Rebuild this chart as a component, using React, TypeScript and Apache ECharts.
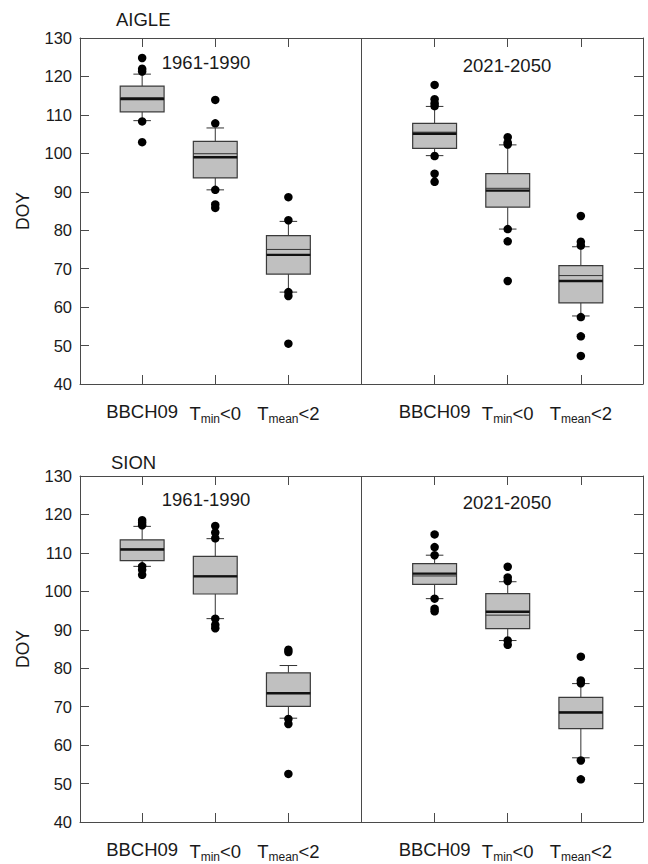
import React, { useEffect, useRef } from "react";
import * as echarts from "echarts";

// Categories and their x positions (1..3 for 1961-1990, 5..7 for 2021-2050)
const categories = ["BBCH09", "Tmin<0", "Tmean<2"];
const xPos1961 = [1, 2, 3];
const xPos2021 = [5, 6, 7];
const periods = ["1961-1990", "2021-2050"];
const yTicks = [40, 50, 60, 70, 80, 90, 100, 110, 120, 130];

// stats rows: [lowerWhisker, Q1, median, mean, Q3, upperWhisker]
const aigle1961Stats = [
  [108.5, 110.8, 114.5, 114.1, 117.5, 120.6],
  [90.5, 93.6, 99.9, 99.0, 103.1, 106.6],
  [63.9, 68.6, 75.0, 73.6, 78.6, 82.3],
];
const aigle1961Outliers = [
  [124.8, 122.0, 121.3, 108.3, 102.9],
  [113.9, 107.8, 90.5, 86.7, 85.8],
  [88.6, 82.6, 63.9, 62.9, 50.5],
];
const aigle2021Stats = [
  [99.4, 101.3, 105.5, 105.1, 107.8, 112.2],
  [80.3, 86.0, 90.9, 90.3, 94.7, 102.2],
  [57.7, 61.1, 68.2, 66.8, 70.8, 75.7],
];
const aigle2021Outliers = [
  [117.8, 114.1, 113.0, 112.3, 99.3, 94.7, 92.6],
  [104.2, 102.8, 102.3, 80.3, 77.1, 66.8],
  [83.7, 77.0, 76.0, 57.4, 52.4, 47.3],
];
const sion1961Stats = [
  [106.5, 108.0, 111.0, 110.9, 113.4, 116.9],
  [92.9, 99.3, 104.0, 103.9, 109.1, 113.7],
  [67.0, 70.1, 73.6, 73.5, 78.8, 80.7],
];
const sion1961Outliers = [
  [118.5, 117.9, 117.2, 106.5, 105.6, 104.3],
  [117.0, 115.3, 113.8, 92.9, 91.3, 90.4],
  [84.8, 84.2, 66.8, 65.5, 52.5],
];
const sion2021Stats = [
  [98.1, 101.8, 104.0, 104.6, 107.2, 109.4],
  [87.2, 90.3, 93.8, 94.7, 99.4, 102.5],
  [56.7, 64.3, 68.6, 68.5, 72.4, 76.0],
];
const sion2021Outliers = [
  [114.8, 111.5, 109.4, 98.1, 95.5, 94.8],
  [106.4, 103.6, 102.7, 87.2, 86.1],
  [83.0, 76.8, 76.1, 56.0, 51.1],
];

const FONT = "'Liberation Sans', Arial, Helvetica, sans-serif";
const AXIS_COLOR = "#4a4a4a";
const TEXT_COLOR = "#1a1a1a";

function boxData(xs: number[], stats: number[][]) {
  return stats.map((s, i) => [xs[i], ...s]);
}
function outlierData(xs: number[], outs: number[][]) {
  const res: number[][] = [];
  outs.forEach((arr, i) => arr.forEach((v) => res.push([xs[i], v])));
  return res;
}

const renderBox = (params: any, api: any) => {
  const x = api.value(0);
  const lo = api.value(1);
  const q1 = api.value(2);
  const med = api.value(3);
  const mean = api.value(4);
  const q3 = api.value(5);
  const hi = api.value(6);
  const unit = api.size([1, 0])[0];
  const hw = unit * 0.3;
  const cw = unit * 0.12;
  const cx = api.coord([x, lo])[0];
  const yLo = api.coord([x, lo])[1];
  const yQ1 = api.coord([x, q1])[1];
  const yMed = api.coord([x, med])[1];
  const yMean = api.coord([x, mean])[1];
  const yQ3 = api.coord([x, q3])[1];
  const yHi = api.coord([x, hi])[1];
  const ls = { stroke: "#333", lineWidth: 1 };
  return {
    type: "group",
    children: [
      { type: "line", shape: { x1: cx, y1: yQ3, x2: cx, y2: yHi }, style: ls },
      { type: "line", shape: { x1: cx - cw, y1: yHi, x2: cx + cw, y2: yHi }, style: ls },
      { type: "line", shape: { x1: cx, y1: yQ1, x2: cx, y2: yLo }, style: ls },
      { type: "line", shape: { x1: cx - cw, y1: yLo, x2: cx + cw, y2: yLo }, style: ls },
      {
        type: "rect",
        shape: { x: cx - hw, y: yQ3, width: 2 * hw, height: yQ1 - yQ3 },
        style: { fill: "#c0c0c0", stroke: "#3a3a3a", lineWidth: 1.2 },
      },
      { type: "line", shape: { x1: cx - hw, y1: yMed, x2: cx + hw, y2: yMed }, style: { stroke: "#333", lineWidth: 1 } },
      { type: "line", shape: { x1: cx - hw, y1: yMean, x2: cx + hw, y2: yMean }, style: { stroke: "#111", lineWidth: 2.4 } },
    ],
  };
};

function labelFormatter(v: number) {
  const idx = v < 4 ? Math.round(v) - 1 : Math.round(v) - 5;
  const c = categories[idx];
  if (c === "Tmin<0") return "{n|T}{s|min}{n|<0}";
  if (c === "Tmean<2") return "{n|T}{s|mean}{n|<2}";
  return "{n|" + c + "}";
}

const tickVals = [...xPos1961, ...xPos2021];

function xAxes(gridIndex: number) {
  const base = {
    gridIndex,
    type: "value",
    min: 0.15,
    max: 7.85,
    splitLine: { show: false },
    axisLine: { show: true, onZero: false, lineStyle: { color: AXIS_COLOR, width: 1 } },
    axisTick: { show: true, inside: true, length: 9, customValues: tickVals, lineStyle: { color: AXIS_COLOR, width: 1 } },
  };
  return [
    {
      ...base,
      position: "bottom",
      axisLabel: {
        show: true,
        customValues: tickVals,
        margin: 18,
        formatter: labelFormatter,
        rich: {
          n: { fontSize: 18.5, fontFamily: FONT, color: TEXT_COLOR },
          s: { fontSize: 12, fontFamily: FONT, color: TEXT_COLOR, padding: [11, 0, 0, 0] },
        },
      },
    },
    { ...base, position: "top", axisLabel: { show: false } },
  ];
}

function yAxes(gridIndex: number) {
  const base = {
    gridIndex,
    type: "value",
    min: 40,
    max: 130,
    interval: 10,
    splitLine: { show: false },
    axisLine: { show: true, onZero: false, lineStyle: { color: AXIS_COLOR, width: 1 } },
    axisTick: { show: true, inside: true, length: 9, lineStyle: { color: AXIS_COLOR, width: 1 } },
  };
  return [
    {
      ...base,
      position: "left",
      name: "DOY",
      nameLocation: "middle",
      nameGap: 48,
      nameTextStyle: { fontSize: 17.5, fontFamily: FONT, color: TEXT_COLOR },
      axisLabel: {
        show: true,
        margin: 8,
        fontSize: 16.5,
        fontFamily: FONT,
        color: TEXT_COLOR,
        formatter: (v: number) => (yTicks.includes(v) ? String(v) : ""),
      },
    },
    { ...base, position: "right", axisLabel: { show: false } },
  ];
}

function panelSeries(
  gridIdx: number,
  stats1: number[][],
  outs1: number[][],
  stats2: number[][],
  outs2: number[][]
) {
  const xi = gridIdx * 2;
  const yi = gridIdx * 2;
  return [
    {
      type: "custom",
      xAxisIndex: xi,
      yAxisIndex: yi,
      renderItem: renderBox,
      encode: { x: 0, y: [1, 2, 3, 4, 5, 6] },
      data: [...boxData(xPos1961, stats1), ...boxData(xPos2021, stats2)],
      z: 2,
      silent: true,
      markLine: {
        silent: true,
        symbol: "none",
        label: { show: false },
        lineStyle: { color: AXIS_COLOR, width: 1, type: "solid" },
        data: [{ xAxis: 4 }],
      },
    },
    {
      type: "scatter",
      xAxisIndex: xi,
      yAxisIndex: yi,
      symbol: "circle",
      symbolSize: 8.5,
      itemStyle: { color: "#000", opacity: 1 },
      data: [...outlierData(xPos1961, outs1), ...outlierData(xPos2021, outs2)],
      z: 3,
      silent: true,
    },
  ];
}

function textEl(text: string, x: number, y: number, align = "center") {
  return {
    type: "text",
    x,
    y,
    style: {
      text,
      fontSize: 18.5,
      fontFamily: FONT,
      fill: TEXT_COLOR,
      textAlign: align,
      textVerticalAlign: "middle",
    },
  };
}

export default function App() {
  const ref = useRef<HTMLDivElement>(null);
  useEffect(() => {
    if (!ref.current) return;
    const chart = echarts.init(ref.current, undefined, { renderer: "svg" });
    chart.setOption({
      animation: false,
      backgroundColor: "#fff",
      grid: [
        { left: 80, right: 5, top: 38, height: 346 },
        { left: 80, right: 5, top: 476, height: 346 },
      ],
      xAxis: [...xAxes(0), ...xAxes(1)],
      yAxis: [...yAxes(0), ...yAxes(1)],
      series: [
        ...panelSeries(0, aigle1961Stats, aigle1961Outliers, aigle2021Stats, aigle2021Outliers),
        ...panelSeries(1, sion1961Stats, sion1961Outliers, sion2021Stats, sion2021Outliers),
      ],
      graphic: [
        textEl("AIGLE", 116, 19, "left"),
        textEl("SION", 111, 462, "left"),
        textEl(periods[0], 206, 62),
        textEl(periods[1], 507, 65),
        textEl(periods[0], 206, 499),
        textEl(periods[1], 507, 502),
      ],
    });
    return () => chart.dispose();
  }, []);
  return (
    <div
      ref={ref}
      style={{ position: "absolute", left: 0, top: 0, width: 648, height: 864, background: "#fff" }}
    />
  );
}
